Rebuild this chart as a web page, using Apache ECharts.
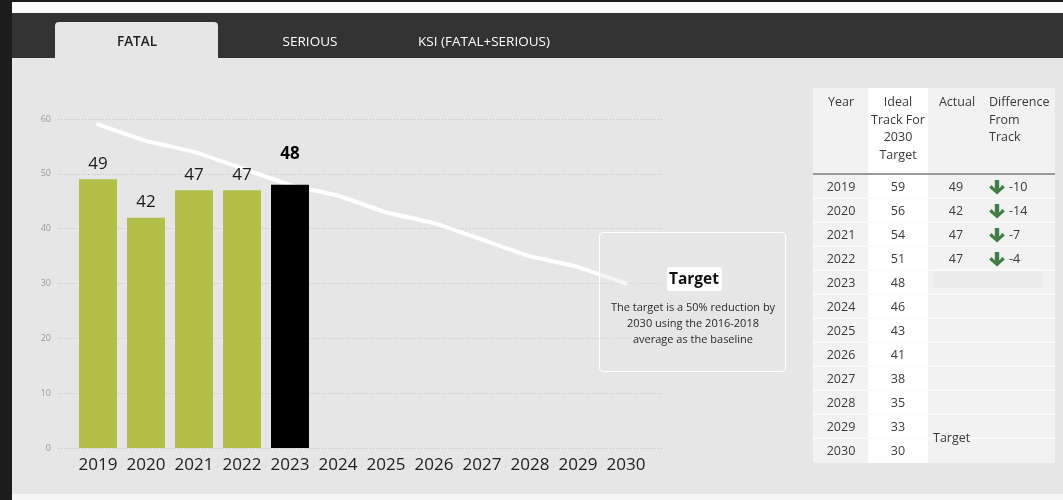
<!DOCTYPE html>
<html>
<head>
<meta charset="utf-8">
<script src="https://cdn.jsdelivr.net/npm/echarts@6/dist/echarts.min.js"></script>
<style>
html,body{margin:0;padding:0;background:#1c1c1c;}
#chart{width:1063px;height:500px;}
</style>
</head>
<body>
<div id="chart"></div>
<script>
var years = ['2019','2020','2021','2022','2023','2024','2025','2026','2027','2028','2029','2030'];
var actualFatal = [49, 42, 47, 47, 48];
var idealTrack = [59, 56, 54, 51, 48, 46, 43, 41, 38, 35, 33, 30];
var tableActual = [49, 42, 47, 47];
var differenceFromTrack = [-10, -14, -7, -4];
var yTicks = [0, 10, 20, 30, 40, 50, 60];
var tabs = ['FATAL', 'SERIOUS', 'KSI (FATAL+SERIOUS)'];
var tableHeaders = ['Year', 'Ideal\nTrack For\n2030\nTarget', 'Actual', 'Difference\nFrom\nTrack'];
var targetTitle = 'Target';
var targetText = 'The target is a 50% reduction by\n2030 using the 2016-2018\naverage as the baseline';
var currentYear = '2023';

var FONT = '"Open Sans", "Noto Sans", sans-serif';
var chart = echarts.init(document.getElementById('chart'));

var barData = actualFatal.map(function (v, i) {
  if (years[i] === currentYear) {
    return { value: v, itemStyle: { color: '#000000' },
      label: { fontWeight: 'bold', distance: 22, color: '#000' } };
  }
  return v;
});

var tableRows = years.map(function (y, i) { return [i]; });

function renderRow(params, api) {
  var i = api.value(0);
  var c = api.coord([0, i]);
  var h = api.size([0, 1])[1];
  var x0 = params.coordSys.x;
  var w = params.coordSys.width;
  var yTop = c[1] - h / 2;
  var cy = c[1];
  var ch = [];
  ch.push({ type: 'rect', shape: { x: x0, y: yTop, width: 55, height: h }, style: { fill: '#f2f2f2' } });
  ch.push({ type: 'rect', shape: { x: x0 + 55, y: yTop, width: 60, height: h }, style: { fill: '#ffffff' } });
  ch.push({ type: 'rect', shape: { x: x0 + 115, y: yTop, width: w - 115, height: h }, style: { fill: '#f2f2f2' } });
  if (i < years.length - 1) {
    ch.push({ type: 'rect', shape: { x: x0, y: yTop + h - 1.5, width: w, height: 1.5 }, style: { fill: '#fbfbfb' } });
  }
  if (years[i] === currentYear) {
    ch.push({ type: 'rect', shape: { x: x0 + 120, y: yTop, width: 110, height: h - 7 }, style: { fill: '#ececec' } });
  }
  var txt = { fontSize: 12.5, fontFamily: FONT, fill: '#3a3a3a', verticalAlign: 'middle' };
  ch.push({ type: 'text', style: Object.assign({ text: years[i], x: x0 + 28, y: cy, align: 'center' }, txt) });
  ch.push({ type: 'text', style: Object.assign({ text: String(idealTrack[i]), x: x0 + 85, y: cy, align: 'center' }, txt) });
  if (i < tableActual.length) {
    ch.push({ type: 'text', style: Object.assign({ text: String(tableActual[i]), x: x0 + 143, y: cy, align: 'center' }, txt) });
    var ax = x0 + 184, ay = cy;
    ch.push({ type: 'polygon', shape: { points: [
      [ax - 2.2, ay - 7], [ax + 2.2, ay - 7], [ax + 2.2, ay + 1.5], [ax + 5.5, ay - 2], [ax + 7.8, ay + 0.5],
      [ax, ay + 7.5], [ax - 7.8, ay + 0.5], [ax - 5.5, ay - 2], [ax - 2.2, ay + 1.5]
    ] }, style: { fill: '#3f7f47' } });
    ch.push({ type: 'text', style: Object.assign({ text: String(differenceFromTrack[i]), x: x0 + 196, y: cy, align: 'left' }, txt) });
  }
  if (i === years.length - 1) {
    ch.push({ type: 'text', style: Object.assign({ text: targetTitle, x: x0 + 120, y: yTop - 1, align: 'left' }, txt) });
  }
  return { type: 'group', children: ch };
}

var graphics = [
  { type: 'rect', z: -10, shape: { x: 12, y: 2, width: 1051, height: 11 }, style: { fill: '#fbfbfb' } },
  { type: 'rect', z: -10, shape: { x: 12, y: 13, width: 1051, height: 45 }, style: { fill: '#333333' } },
  { type: 'rect', z: -10, shape: { x: 12, y: 58, width: 1051, height: 436 }, style: { fill: '#e6e6e6' } },
  { type: 'rect', z: -10, shape: { x: 12, y: 494, width: 1051, height: 6 }, style: { fill: '#f7f7f7' } },
  { type: 'rect', z: -9, shape: { x: 55, y: 22, width: 163, height: 37, r: [4, 4, 0, 0] }, style: { fill: '#e6e6e6' } },
  { type: 'text', z: -8, style: { text: tabs[0], x: 137, y: 42, align: 'center', verticalAlign: 'middle', fontSize: 13.5, fontWeight: 600, fontFamily: FONT, fill: '#222' } },
  { type: 'text', z: -8, style: { text: tabs[1], x: 310, y: 42, align: 'center', verticalAlign: 'middle', fontSize: 13.5, fontFamily: FONT, fill: '#ffffff' } },
  { type: 'text', z: -8, style: { text: tabs[2], x: 484, y: 42, align: 'center', verticalAlign: 'middle', fontSize: 13.5, fontFamily: FONT, fill: '#ffffff' } },
  // target box
  { type: 'rect', z: 5, shape: { x: 599.5, y: 232.5, width: 186, height: 139, r: 4 }, style: { fill: 'rgba(230,230,230,0.35)', stroke: '#ffffff', lineWidth: 1.2 } },
  { type: 'rect', z: 6, shape: { x: 667, y: 267, width: 55, height: 24, r: 3 }, style: { fill: '#ffffff' } },
  { type: 'text', z: 7, style: { text: targetTitle, x: 694, y: 280, align: 'center', verticalAlign: 'middle', fontSize: 15.5, fontWeight: 'bold', fontFamily: FONT, fill: '#111' } },
  { type: 'text', z: 7, style: { text: targetText, x: 693, y: 324, align: 'center', verticalAlign: 'middle', fontSize: 11, lineHeight: 16, fontFamily: FONT, fill: '#2a2a2a' } },
  // table header
  { type: 'rect', z: 1, shape: { x: 813, y: 88, width: 55, height: 86 }, style: { fill: '#f2f2f2' } },
  { type: 'rect', z: 1, shape: { x: 868, y: 88, width: 60, height: 86 }, style: { fill: '#ffffff' } },
  { type: 'rect', z: 1, shape: { x: 928, y: 88, width: 127, height: 86 }, style: { fill: '#f2f2f2' } },
  { type: 'rect', z: 2, shape: { x: 813, y: 173, width: 242, height: 2 }, style: { fill: '#9a9a9a' } },
  { type: 'text', z: 3, style: { text: tableHeaders[0], x: 841, y: 94, align: 'center', verticalAlign: 'top', fontSize: 12.5, lineHeight: 17.5, fontFamily: FONT, fill: '#3a3a3a' } },
  { type: 'text', z: 3, style: { text: tableHeaders[1], x: 898, y: 94, align: 'center', verticalAlign: 'top', fontSize: 12.5, lineHeight: 17.5, fontFamily: FONT, fill: '#3a3a3a' } },
  { type: 'text', z: 3, style: { text: tableHeaders[2], x: 957, y: 94, align: 'center', verticalAlign: 'top', fontSize: 12.5, lineHeight: 17.5, fontFamily: FONT, fill: '#3a3a3a' } },
  { type: 'text', z: 3, style: { text: tableHeaders[3], x: 989, y: 94, align: 'left', verticalAlign: 'top', fontSize: 12.5, lineHeight: 17.5, fontFamily: FONT, fill: '#3a3a3a' } }
];

var option = {
  animation: false,
  backgroundColor: 'transparent',
  graphic: graphics,
  grid: [
    { left: 58, right: 401, top: 119, bottom: 52 },
    { left: 74, width: 576, top: 119, bottom: 52 },
    { left: 813, width: 242, top: 175, height: 288 }
  ],
  xAxis: [
    { type: 'value', gridIndex: 0, min: 0, max: 1, show: false },
    { type: 'category', gridIndex: 1, data: years,
      axisLine: { show: false }, axisTick: { show: false },
      axisLabel: { fontSize: 17, color: '#1e1e1e', fontFamily: FONT, margin: 9, interval: 0 } },
    { type: 'value', gridIndex: 2, min: 0, max: 1, show: false }
  ],
  yAxis: [
    { type: 'value', gridIndex: 0, min: yTicks[0], max: yTicks[yTicks.length - 1], interval: 10,
      axisLine: { show: false }, axisTick: { show: false },
      axisLabel: { fontSize: 9, color: '#9a9a9a', fontFamily: FONT, margin: 7 },
      splitLine: { show: true, lineStyle: { type: [1, 2], color: '#c4c4c4', width: 1 } } },
    { type: 'value', gridIndex: 1, min: 0, max: 60, show: false, splitLine: { show: false } },
    { type: 'category', gridIndex: 2, data: years, inverse: true, show: false }
  ],
  series: [
    { type: 'line', xAxisIndex: 1, yAxisIndex: 1, data: idealTrack, z: 1,
      symbol: 'none', smooth: 0.12, lineStyle: { color: '#ffffff', width: 4, cap: 'round', join: 'round' } },
    { type: 'bar', xAxisIndex: 1, yAxisIndex: 1, data: barData, z: 3, barWidth: 38,
      itemStyle: { color: '#b2bf48' },
      label: { show: true, position: 'top', distance: 7, fontSize: 17, color: '#1a1a1a', fontFamily: FONT } },
    { type: 'custom', xAxisIndex: 2, yAxisIndex: 2, data: tableRows, renderItem: renderRow, z: 2 }
  ]
};
chart.setOption(option);
</script>
</body>
</html>
